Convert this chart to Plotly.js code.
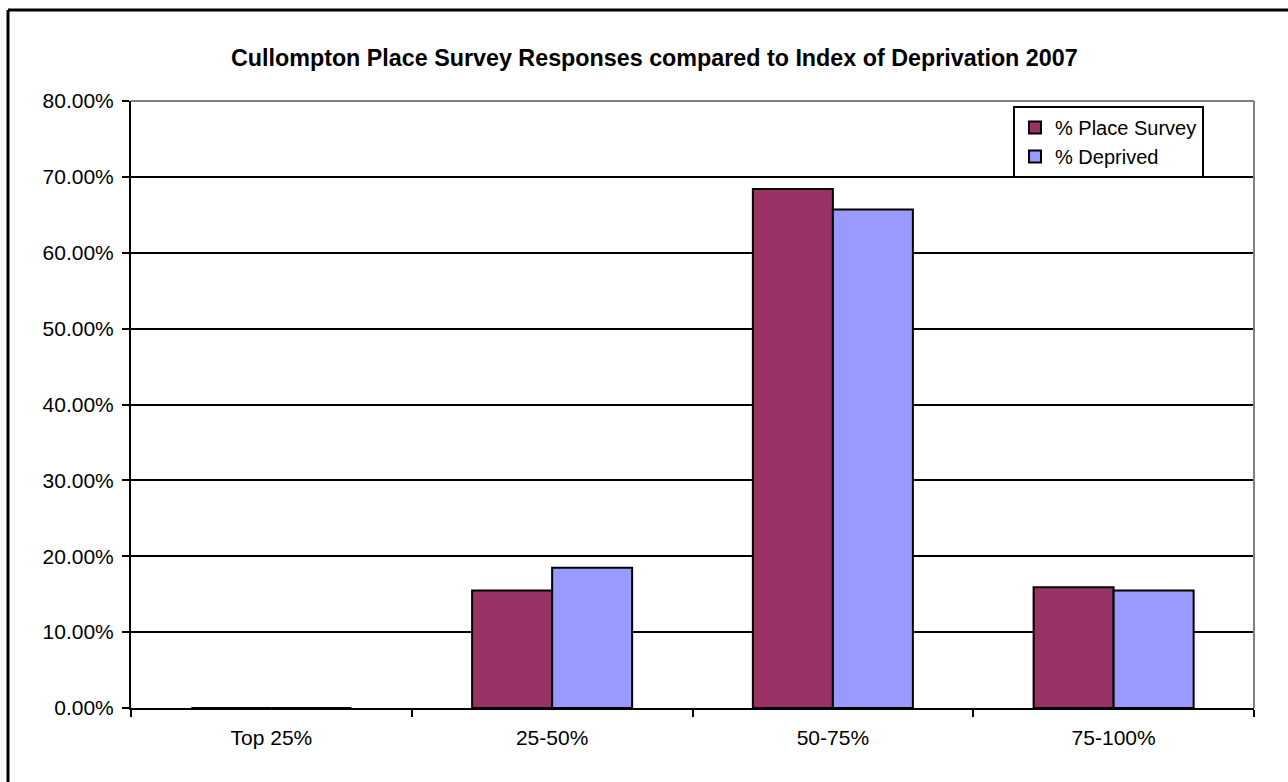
<!DOCTYPE html>
<html>
<head>
<meta charset="utf-8">
<script src="https://cdn.plot.ly/plotly-3.0.1.min.js"></script>
<style>html,body{margin:0;padding:0;background:#fff;}#chart{width:1288px;height:782px;}</style>
</head>
<body>
<div id="chart"></div>
<script>
const categories = ["Top 25%", "25-50%", "50-75%", "75-100%"];
const placeSurvey = [0, 0.155, 0.684, 0.159];
const deprived = [0, 0.185, 0.657, 0.155];
const seriesNames = ["% Place Survey", "% Deprived"];
const yTicks = [0, 0.1, 0.2, 0.3, 0.4, 0.5, 0.6, 0.7, 0.8];

const font = "Liberation Sans, Arial, sans-serif";
const traces = [
  {type: "bar", name: seriesNames[0], x: categories, y: placeSurvey,
   marker: {color: "#993366", line: {color: "#000", width: 2}}},
  {type: "bar", name: seriesNames[1], x: categories, y: deprived,
   marker: {color: "#9999FF", line: {color: "#000", width: 2}}}
];
const layout = {
  width: 1288, height: 782,
  paper_bgcolor: "#fff", plot_bgcolor: "#fff",
  margin: {l: 131, r: 34, t: 101, b: 74},
  font: {family: font, size: 21, color: "#000"},
  title: {text: "<b>Cullompton Place Survey Responses compared to Index of Deprivation 2007</b>",
          font: {family: font, size: 23.3, color: "#000"},
          x: 0.508, xanchor: "center", y: 1 - 58/782, yanchor: "middle"},
  barmode: "group", bargap: 0.43, bargroupgap: 0,
  showlegend: true,
  legend: {x: (1013-131)/1123, xanchor: "left", y: 1 - 5/607, yanchor: "top",
           bgcolor: "#fff", bordercolor: "#000", borderwidth: 2,
           font: {family: font, size: 20, color: "#000"},
           traceorder: "normal", itemwidth: 30, tracegroupgap: 0},
  xaxis: {type: "category", tickson: "boundaries", ticks: "outside", ticklen: 7, tickwidth: 2, tickcolor: "#000",
          showline: true, linecolor: "#000", linewidth: 2, showgrid: false, zeroline: false,
          ticklabelstandoff: 10,
          tickfont: {family: font, size: 21, color: "#000"}},
  yaxis: {range: [0, 0.8], tickvals: yTicks, tickformat: ".2%", ticks: "outside", ticklen: 7, tickwidth: 2, tickcolor: "#000",
          showline: true, linecolor: "#000", linewidth: 2, showgrid: true, gridcolor: "#000", gridwidth: 2,
          zeroline: false, ticklabelstandoff: 4, tickfont: {family: font, size: 21, color: "#000"}},
  shapes: [
    {type: "line", xref: "paper", yref: "paper", x0: 0, x1: 1, y0: 1, y1: 1, line: {color: "#808080", width: 2}},
    {type: "line", xref: "paper", yref: "paper", x0: 1, x1: 1, y0: 0, y1: 1, line: {color: "#808080", width: 2}},
    {type: "line", xref: "paper", yref: "paper", x0: (8-131)/1123, x1: 1.2, y0: (782-74-10)/607, y1: (782-74-10)/607, line: {color: "#000", width: 3}},
    {type: "line", xref: "paper", yref: "paper", x0: (8-131)/1123, x1: (8-131)/1123, y0: (782-74-10)/607, y1: -0.2, line: {color: "#000", width: 3}}
  ]
};
Plotly.newPlot("chart", traces, layout, {displayModeBar: false, staticPlot: true});
</script>
</body>
</html>
